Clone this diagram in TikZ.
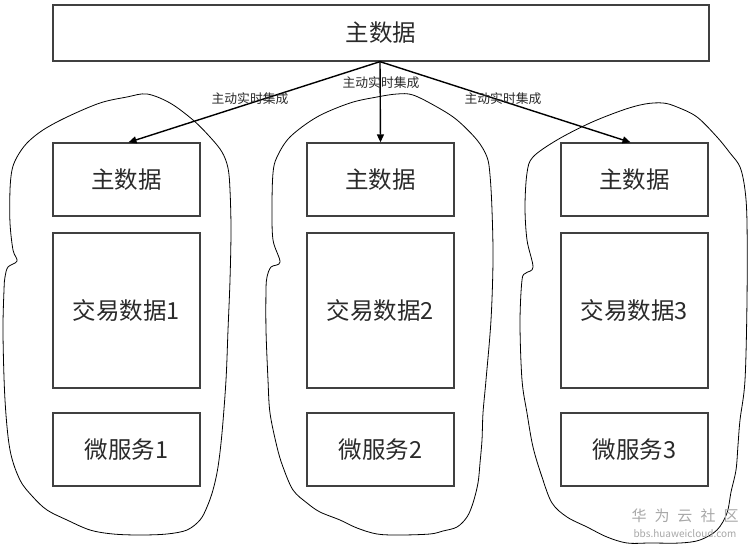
\documentclass[tikz,border=0pt]{standalone}
\usepackage{fontspec}
\setmainfont{Noto Sans CJK SC}
\usetikzlibrary{arrows.meta}
\definecolor{boxline}{HTML}{404040}
\definecolor{wm}{HTML}{A8A8A8}
\definecolor{txt}{HTML}{2A2A2A}
\tikzset{
  databox/.style={draw=boxline, line width=1.3pt, minimum width=147pt, inner sep=0pt, text=txt, font=\fontsize{23.5}{25}\selectfont},
  smallbox/.style={databox, minimum height=73pt},
  bigbox/.style={databox, minimum height=155pt},
  arr/.style={line width=1.4pt, -{Triangle[length=8pt,width=7pt]}},
  lbl/.style={font=\fontsize{12.8}{14}\selectfont, inner sep=0pt, text=txt},
  blob/.style={line width=0.8pt, black},
}
\begin{document}
\begin{tikzpicture}[x=1pt,y=-1pt]
\useasboundingbox (0,0) rectangle (752,548);
\fill[white] (0,0) rectangle (752,548);

% blobs
\draw[blob] plot[smooth cycle, tension=0.55] coordinates {(147,94) (170,103) (193,120) (210,137) (222,152) (228,168) (230,190) (231,230) (230,280) (228,330) (226,380) (222,433) (218,467) (213,490) (207,507) (200,520) (187,530) (167,534) (140,535) (113,534) (90,530) (67,520) (47,510) (33,497) (20,480) (10,450) (5,400) (3,333) (4,290) (5,277) (8,267) (17,261) (13,250) (10,223) (10,190) (12,170) (17,157) (27,143) (43,130) (67,117) (100,103) (127,97)};
\draw[blob] plot[smooth cycle, tension=0.55] coordinates {(397,94) (413,95) (437,107) (457,120) (477,140) (487,157) (490,175) (492,210) (493,260) (491,320) (486,380) (483,413) (482,440) (480,463) (478,483) (473,503) (467,517) (457,527) (443,531) (430,534) (400,535) (377,534) (357,528) (340,520) (320,512) (307,503) (293,490) (283,467) (277,447) (270,413) (268,380) (266,330) (266,290) (267,277) (271,267) (280,262) (273,240) (272,207) (273,173) (277,157) (290,137) (317,117) (350,103) (377,97)};
\draw[blob] plot[smooth cycle, tension=0.55] coordinates {(663,103) (677,107) (697,117) (717,137) (730,153) (740,167) (745,190) (747,223) (747,300) (745,380) (740,420) (738,445) (736,470) (731,492) (727,513) (717,530) (700,540) (680,543) (650,543) (627,543) (607,537) (587,527) (567,517) (552,503) (542,477) (533,447) (527,413) (522,380) (520,323) (522,280) (526,273) (533,267) (527,240) (525,207) (527,173) (533,157) (557,140) (590,123) (623,110) (645,104)};

% top box
\node[databox, minimum width=656pt, minimum height=56pt] (top) at (381,33) {主数据};

% columns
\node[smallbox] (m1) at (126.5,179.5) {主数据};
\node[bigbox]   (t1) at (126.5,310.5) {交易数据1};
\node[smallbox] (s1) at (126.5,449.5) {微服务1};

\node[smallbox] (m2) at (380.5,179.5) {主数据};
\node[bigbox]   (t2) at (380.5,310.5) {交易数据2};
\node[smallbox] (s2) at (380.5,449.5) {微服务2};

\node[smallbox] (m3) at (634.5,179.5) {主数据};
\node[bigbox]   (t3) at (634.5,310.5) {交易数据3};
\node[smallbox] (s3) at (634.5,449.5) {微服务3};

% arrows
\coordinate (src) at ([xshift=-1pt]top.south);
\draw[arr] (src) -- ([xshift=2pt]m1.north);
\draw[arr] (src) -- (m2.north);
\draw[arr] (src) -- ([xshift=-4pt]m3.north);

% labels
\node[lbl] (l1) at (250,99) {主动实时集成};
\node[lbl] (l2) at (381,83) {主动实时集成};
\node[lbl] (l3) at (503,99) {主动实时集成};

% watermark
\node[text=wm, font=\fontsize{15}{16}\selectfont, inner sep=0pt] (wm1) at (685,516) {华\hspace{8pt}为\hspace{8pt}云\hspace{8pt}社\hspace{8pt}区};
\node[text=wm, font=\fontsize{10}{11}\selectfont, inner sep=0pt] (wm2) at (685,534) {bbs.huaweicloud.com};
\end{tikzpicture}
\end{document}
